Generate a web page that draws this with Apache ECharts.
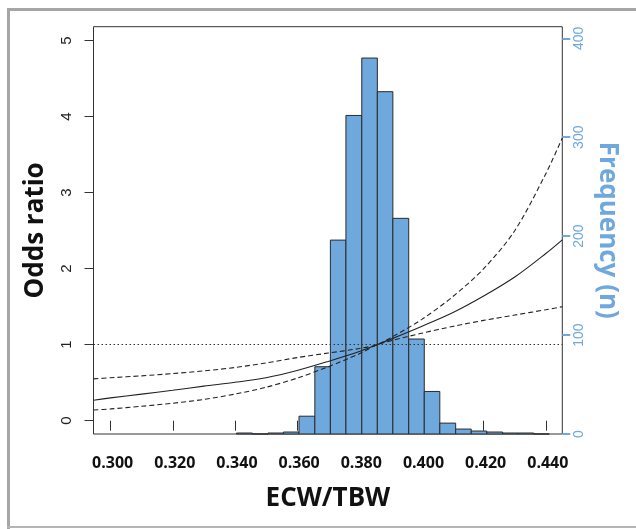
<!DOCTYPE html>
<html>
<head>
<meta charset="utf-8">
<script src="https://cdn.jsdelivr.net/npm/echarts@6/dist/echarts.min.js"></script>
<style>
html,body{margin:0;padding:0;background:#fff;}
#chart{width:636px;height:529px;}
</style>
</head>
<body>
<div id="chart"></div>
<script>
// ---- data ----
const xTicks = [0.30, 0.32, 0.34, 0.36, 0.38, 0.40, 0.42, 0.44];
const orTicks = [0, 1, 2, 3, 4, 5];
const freqTicks = [0, 100, 200, 300, 400];

// histogram (ECW/TBW bins, counts)
const binEdges = [0.3405, 0.3456, 0.3506, 0.3556, 0.3606, 0.3657, 0.3707, 0.3757, 0.3808, 0.3858,
                  0.3908, 0.3959, 0.4009, 0.4059, 0.4110, 0.4160, 0.4210, 0.4261, 0.4311, 0.4361, 0.4411];
const counts   = [1, 0, 1, 2, 18, 68, 196, 322, 380, 346, 218, 96, 43, 11, 5, 3, 2, 1, 1, 0];

// odds ratio curve and 95% CI
const curveX  = [0.2945, 0.30, 0.31, 0.32, 0.33, 0.34, 0.35, 0.36, 0.37, 0.38, 0.3857, 0.39, 0.40, 0.41, 0.42, 0.43, 0.44, 0.4453];
const orEst   = [0.27, 0.30, 0.35, 0.40, 0.455, 0.505, 0.565, 0.66, 0.78, 0.91, 1.0, 1.07, 1.24, 1.42, 1.64, 1.89, 2.20, 2.38];
const orUpper = [0.55, 0.565, 0.59, 0.62, 0.655, 0.70, 0.76, 0.83, 0.89, 0.95, 1.0, 1.09, 1.33, 1.63, 2.0, 2.5, 3.25, 3.72];
const orLower = [0.14, 0.155, 0.19, 0.23, 0.28, 0.35, 0.44, 0.56, 0.71, 0.88, 1.0, 1.05, 1.15, 1.24, 1.32, 1.39, 1.46, 1.50];
const refOR = 1;

// ---- chart ----
const BLUE = '#6fa8dc';
const histData = counts.map((c, i) => [binEdges[i], binEdges[i + 1], c]);
const pairs = arr => curveX.map((x, i) => [x, arr[i]]);

const chart = echarts.init(document.getElementById('chart'), null, {renderer: 'canvas'});
chart.setOption({
  animation: false,
  backgroundColor: '#fff',
  graphic: [
    {type: 'rect', shape: {x: 7, y: 8, width: 629, height: 3}, style: {fill: '#a6a6a6'}},
    {type: 'rect', shape: {x: 7, y: 8, width: 3, height: 521}, style: {fill: '#a6a6a6'}},
    {type: 'rect', shape: {x: 7, y: 526, width: 629, height: 2}, style: {fill: '#b4b4b4'}}
  ],
  grid: {left: 93.5, right: 73.7, top: 26.7, bottom: 95, show: true, borderColor: '#333', borderWidth: 1, backgroundColor: 'transparent'},
  xAxis: {
    type: 'value', min: 0.2945, max: 0.4453,
    name: 'ECW/TBW', nameLocation: 'middle', nameGap: 52,
    nameTextStyle: {fontFamily: 'Open Sans', fontWeight: 'bold', fontSize: 26, color: '#111'},
    axisLine: {show: false},
    axisTick: {show: true, length: 10, customValues: xTicks, lineStyle: {color: '#333'}},
    axisLabel: {customValues: xTicks, margin: 21, padding: [0, 0, 0, 4], fontFamily: 'Open Sans', fontWeight: 'bold', fontSize: 16, color: '#111',
                formatter: v => v.toFixed(3)},
    splitLine: {show: false}
  },
  yAxis: [
    {
      type: 'value', position: 'left', min: -0.175, max: 5.184,
      name: 'Odds ratio', nameLocation: 'middle', nameGap: 45, nameRotate: 90,
      nameTextStyle: {fontFamily: 'Open Sans', fontWeight: 'bold', fontSize: 26, color: '#111'},
      axisLine: {show: false},
      axisTick: {show: true, length: 9, customValues: orTicks, lineStyle: {color: '#333'}},
      axisLabel: {customValues: orTicks, rotate: 90, margin: 19, fontFamily: 'Liberation Sans', fontSize: 15, color: '#222'},
      splitLine: {show: false}
    },
    {
      type: 'value', position: 'right', min: 0, max: 411.7,
      name: 'Frequency (n)', nameLocation: 'middle', nameGap: 28, nameRotate: -90,
      nameTextStyle: {fontFamily: 'Open Sans', fontWeight: 'bold', fontSize: 26, color: BLUE},
      axisLine: {show: false},
      axisTick: {show: true, length: 8, customValues: freqTicks, lineStyle: {color: BLUE, width: 2}},
      axisLabel: {customValues: freqTicks, rotate: 90, margin: 10, fontFamily: 'Liberation Sans', fontSize: 14, color: BLUE},
      splitLine: {show: false}
    }
  ],
  series: [
    {
      type: 'custom', name: 'Frequency', xAxisIndex: 0, yAxisIndex: 1,
      data: histData, encode: {x: [0, 1], y: 2},
      renderItem: function (params, api) {
        const p0 = api.coord([api.value(0), api.value(2)]);
        const p1 = api.coord([api.value(1), 0]);
        return {type: 'rect', shape: {x: p0[0], y: p0[1], width: p1[0] - p0[0], height: p1[1] - p0[1]},
                style: {fill: BLUE, stroke: '#2a2a2a', lineWidth: 1}};
      },
      z: 1
    },
    {
      type: 'line', name: 'OR', yAxisIndex: 0, data: pairs(orEst), smooth: 0.3, showSymbol: false, clip: true,
      lineStyle: {color: '#222', width: 1.1}, z: 3,
      markLine: {silent: true, symbol: 'none', label: {show: false},
                 lineStyle: {color: '#333', type: [1.5, 2.5], width: 1}, data: [{yAxis: refOR}]}
    },
    {
      type: 'line', name: 'Upper', yAxisIndex: 0, data: pairs(orUpper), smooth: 0.3, showSymbol: false, clip: true,
      lineStyle: {color: '#222', width: 1.1, type: [5, 3]}, z: 3
    },
    {
      type: 'line', name: 'Lower', yAxisIndex: 0, data: pairs(orLower), smooth: 0.3, showSymbol: false, clip: true,
      lineStyle: {color: '#222', width: 1.1, type: [5, 3]}, z: 3
    }
  ]
});
</script>
</body>
</html>
